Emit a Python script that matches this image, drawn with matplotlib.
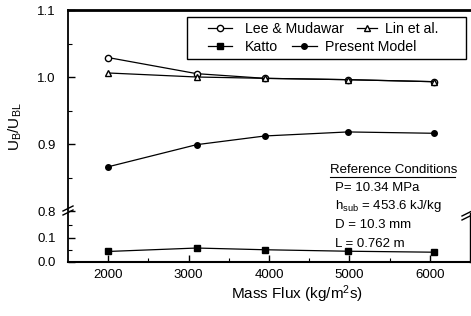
import matplotlib
matplotlib.use("Agg")
import matplotlib.pyplot as plt
from matplotlib.lines import Line2D
from matplotlib.patches import Rectangle

plt.rcParams['font.family'] = ['Liberation Sans', 'DejaVu Sans']
plt.rcParams['mathtext.fontset'] = 'custom'
plt.rcParams['mathtext.rm'] = 'Liberation Sans'
plt.rcParams['mathtext.it'] = 'Liberation Sans'

# data
mass_flux = [2000, 3100, 3950, 4980, 6050]
lee_mudawar = [1.029, 1.005, 0.998, 0.996, 0.993]
lin_et_al = [1.006, 1.000, 0.998, 0.996, 0.993]
present_model = [0.866, 0.899, 0.912, 0.918, 0.916]
katto = [0.043, 0.057, 0.050, 0.044, 0.040]

W, H = 471, 316
fig = plt.figure(figsize=(W / 100, H / 100), dpi=100)

left, right = 68, 470
top_px, brk_px, bot_px = 10, 211, 262
ax_up = fig.add_axes([left / W, 1 - brk_px / H, (right - left) / W, (brk_px - top_px) / H])
ax_lo = fig.add_axes([left / W, 1 - bot_px / H, (right - left) / W, (bot_px - brk_px - 2) / H])

lk = dict(color='black', lw=0.9, mec='black')
h_lee, = ax_up.plot(mass_flux, lee_mudawar, marker='o', ms=4.5, mfc='white', **lk)
h_lin, = ax_up.plot(mass_flux, lin_et_al, marker='^', ms=4.5, mfc='white', **lk)
h_pm, = ax_up.plot(mass_flux, present_model, marker='o', ms=4, mfc='black', **lk)
h_kat, = ax_lo.plot(mass_flux, katto, marker='s', ms=4, mfc='black', **lk)

for ax in (ax_up, ax_lo):
    ax.set_xlim(1500, 6500)
    ax.tick_params(direction='in', length=5, width=1, labelsize=9.5, pad=9)
    ax.tick_params(which='minor', direction='in', length=3, width=0.8)

ax_up.set_ylim(0.8, 1.1)
ax_up.set_yticks([0.8, 0.9, 1.0, 1.1])
ax_up.set_yticks([0.85, 0.95, 1.05], minor=True)
ax_up.set_yticklabels(['0.8', '0.9', '1.0', '1.1'])
ax_up.set_xticks([])
ax_up.spines['bottom'].set_visible(False)
ax_up.spines['right'].set_visible(False)
ax_up.spines['top'].set_linewidth(2)
ax_up.spines['left'].set_linewidth(1.3)

ax_lo.set_ylim(0.0, 0.2)
ax_lo.set_yticks([0.0, 0.1])
ax_lo.set_yticks([0.05, 0.15], minor=True)
ax_lo.set_yticklabels(['0.0', '0.1'])
ax_lo.set_xticks([2000, 3000, 4000, 5000, 6000])
ax_lo.set_xticks([2500, 3500, 4500, 5500], minor=True)
ax_lo.tick_params(axis='x', pad=5)
ax_lo.spines['top'].set_visible(False)
ax_lo.spines['bottom'].set_linewidth(1.5)
ax_lo.spines['left'].set_linewidth(1.3)
ax_lo.spines['right'].set_linewidth(1.0)
ax_lo.set_xlabel('Mass Flux (kg/m$^2$s)', fontsize=11)
ax_lo.xaxis.set_label_coords(0.57, -0.44)

# break marks
for xf, yb in ((left, brk_px), (right - 3, brk_px + 5)):
    for dy in (-3, 1):
        y0 = 1 - (yb + dy + 3) / H
        fig.add_artist(Line2D([(xf - 5) / W, (xf + 5) / W], [y0, y0 + 5 / H], color='black', lw=1))

fig.text(15 / W, 1 - 127 / H, r'U$_\mathregular{B}$/U$_\mathregular{BL}$', rotation=90,
         ha='center', va='center', fontsize=11)

# legend: entries flow like text in the original, so one small legend per entry
entries = [
    (h_lee, 'Lee & Mudawar', 208, 29, 1.7, 0.9),
    (h_lin, 'Lin et al.', 357, 29, 1.4, 0.55),
    (h_kat, 'Katto', 208, 47, 1.7, 0.9),
    (h_pm, 'Present Model', 292, 47, 1.75, 0.55),
]
for handle, label, xp, yp, hl, tp in entries:
    fig.legend([handle], [label], loc='center left', bbox_to_anchor=(xp / W, 1 - yp / H),
               borderaxespad=0, borderpad=0, fontsize=10.2, handlelength=hl,
               handletextpad=tp, frameon=False)
fig.add_artist(Rectangle((187 / W, 1 - 59 / H), 279 / W, 42 / H, transform=fig.transFigure,
                         fill=False, edgecolor='black', lw=1.0))

# reference conditions
tx = 335 / W
fig.text(330 / W, 1 - 170 / H, 'Reference Conditions', fontsize=9.5, va='center')
fig.add_artist(Line2D([330 / W, 455 / W], [1 - 177 / H, 1 - 177 / H], color='black', lw=0.8))
fig.text(tx, 1 - 188 / H, 'P= 10.34 MPa', fontsize=9.5, va='center')
fig.text(tx, 1 - 206 / H, r'h$_\mathregular{sub}$ = 453.6 kJ/kg', fontsize=9.5, va='center')
fig.text(tx, 1 - 225 / H, 'D = 10.3 mm', fontsize=9.5, va='center')
fig.text(tx, 1 - 244 / H, 'L = 0.762 m', fontsize=9.5, va='center')

fig.savefig('out.png', dpi=100)
